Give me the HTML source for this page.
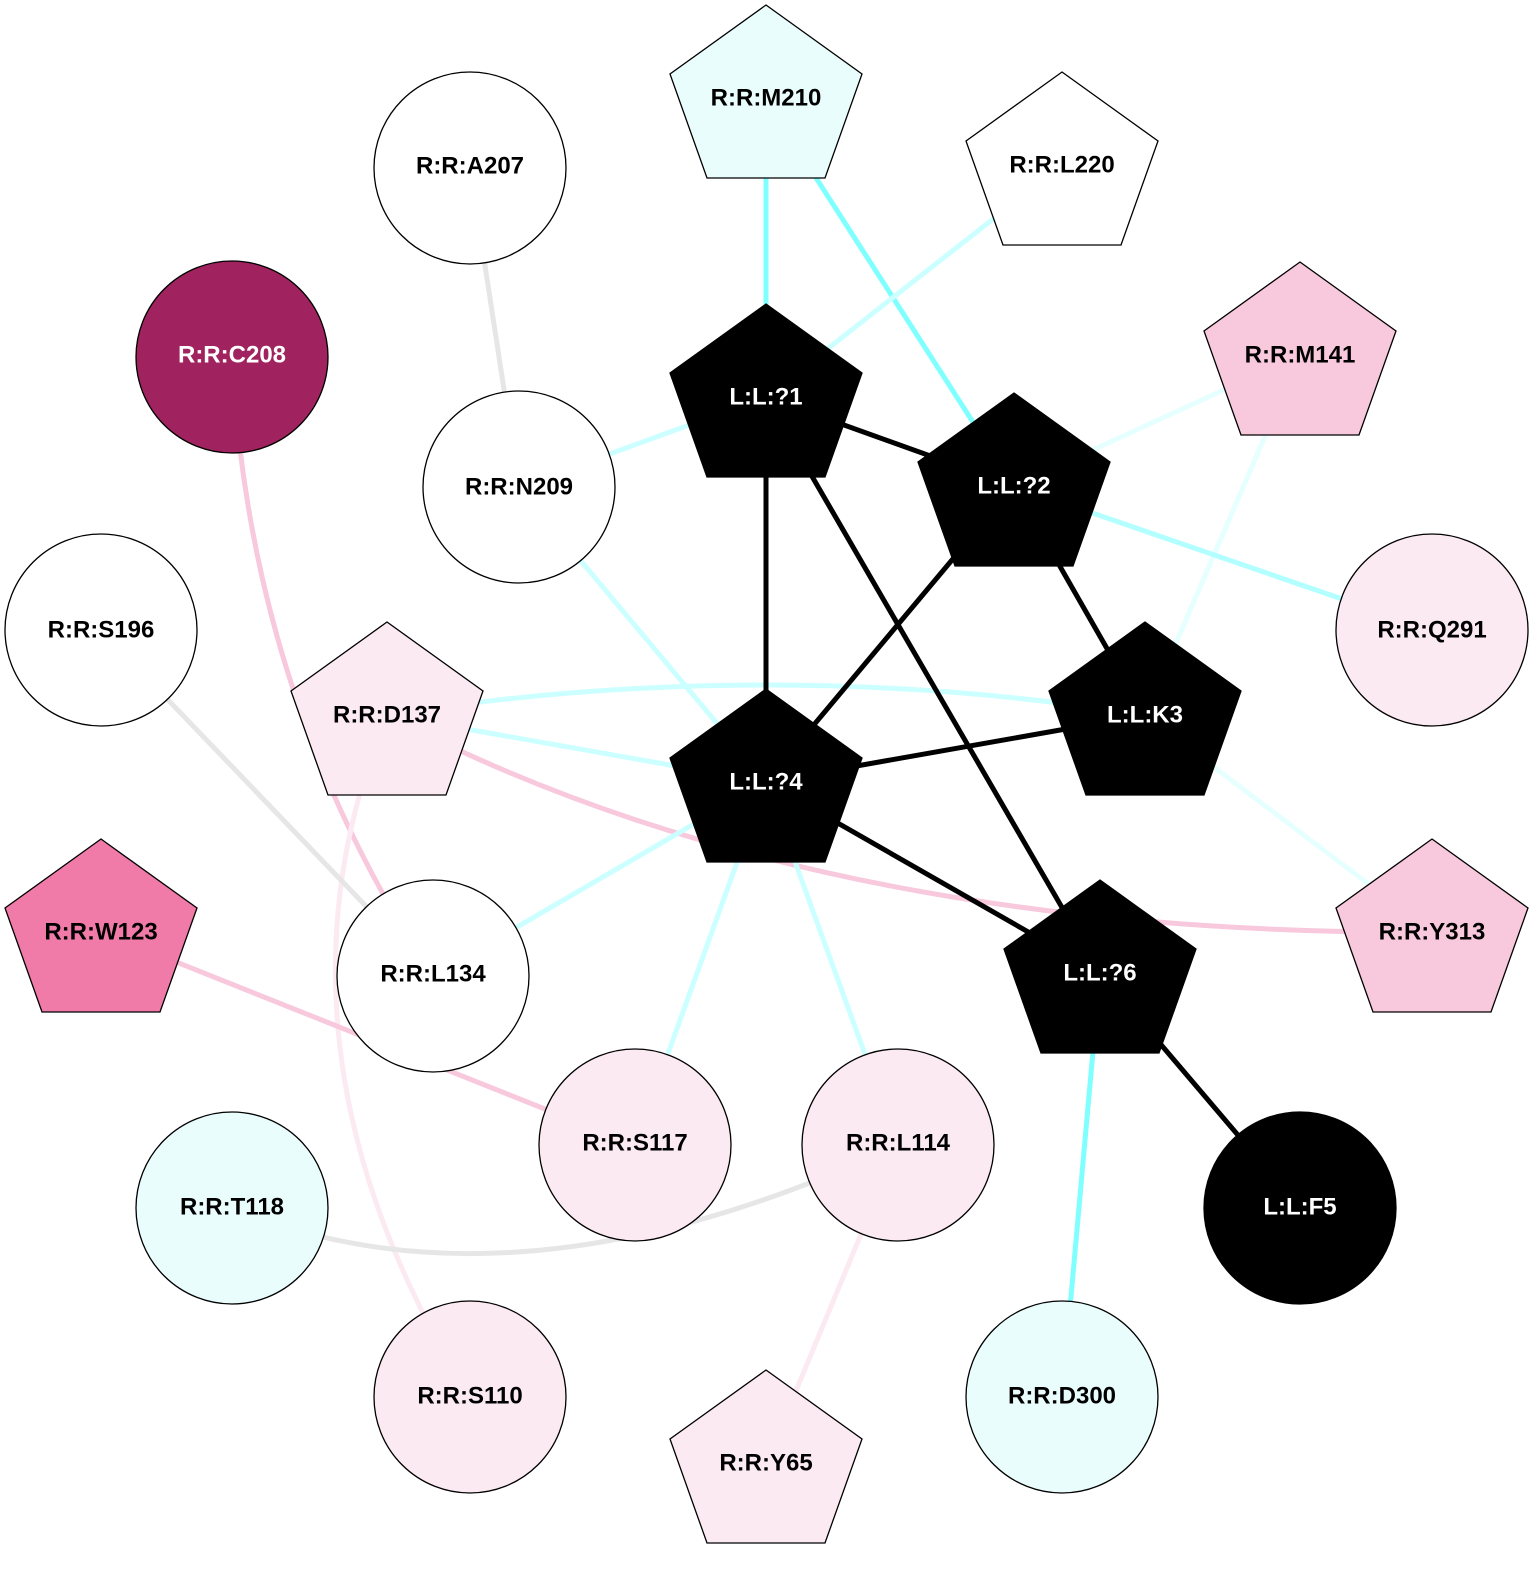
<!DOCTYPE html>
<html><head><meta charset="utf-8"><style>
html,body{margin:0;padding:0;background:#fff;}
text{font-family:"Liberation Sans",Arial,sans-serif;font-weight:bold;font-size:24px;text-anchor:middle;dominant-baseline:central;}
</style></head><body>
<svg width="1540" height="1574" viewBox="0 0 1540 1574" xmlns="http://www.w3.org/2000/svg">
<g fill="none" stroke-width="5">
<line x1="766" y1="100" x2="766" y2="397" stroke="#80ffff"/>
<line x1="766" y1="100" x2="1014" y2="486" stroke="#80ffff"/>
<line x1="1062" y1="165" x2="766" y2="397" stroke="#ccffff"/>
<line x1="519" y1="487" x2="766" y2="397" stroke="#ccffff"/>
<line x1="470" y1="168" x2="519" y2="487" stroke="#e6e6e6"/>
<path d="M232,357 Q250,700 433,976" stroke="#f8c8dc"/>
<line x1="1300" y1="355" x2="1014" y2="486" stroke="#e6ffff"/>
<line x1="1300" y1="355" x2="1145" y2="715" stroke="#e6ffff"/>
<line x1="1014" y1="486" x2="1432" y2="630" stroke="#b3ffff"/>
<line x1="519" y1="487" x2="766" y2="782" stroke="#ccffff"/>
<path d="M387,715 Q766,655 1145,715" stroke="#ccffff"/>
<line x1="387" y1="715" x2="766" y2="782" stroke="#ccffff"/>
<path d="M387,715 Q810,936 1432,932" stroke="#f8c8dc"/>
<path d="M387,715 Q252,1044 470,1397" stroke="#fbeaf2"/>
<line x1="1145" y1="715" x2="1432" y2="932" stroke="#e6ffff"/>
<line x1="101" y1="630" x2="433" y2="976" stroke="#e6e6e6"/>
<line x1="101" y1="932" x2="635" y2="1145" stroke="#f8c8dc"/>
<line x1="766" y1="782" x2="433" y2="976" stroke="#ccffff"/>
<line x1="766" y1="782" x2="635" y2="1145" stroke="#ccffff"/>
<line x1="766" y1="782" x2="898" y2="1145" stroke="#ccffff"/>
<line x1="1100" y1="973" x2="1062" y2="1397" stroke="#80ffff"/>
<path d="M232,1208 Q515,1324 898,1145" stroke="#e6e6e6"/>
<line x1="898" y1="1145" x2="766" y2="1463" stroke="#fbeaf2"/>
<g stroke="#000">
<line x1="766" y1="397" x2="1014" y2="486"/>
<line x1="766" y1="397" x2="766" y2="782"/>
<line x1="766" y1="397" x2="1100" y2="973"/>
<line x1="1014" y1="486" x2="766" y2="782"/>
<line x1="1014" y1="486" x2="1145" y2="715"/>
<line x1="1145" y1="715" x2="766" y2="782"/>
<line x1="766" y1="782" x2="1100" y2="973"/>
<line x1="1100" y1="973" x2="1300" y2="1208"/>
</g>
</g>
<defs>
<polygon id="p" points="0,-93 96,-24 59,80 -59,80 -96,-24"/>
</defs>
<g stroke="#000" stroke-width="1.3">
<circle cx="470" cy="168" r="96" fill="#fff"/>
<use href="#p" x="766" y="98" fill="#eafdfd"/>
<use href="#p" x="1062" y="165" fill="#fff"/>
<circle cx="232" cy="357" r="96" fill="#a0225e"/>
<use href="#p" x="1300" y="355" fill="#f8c8dc"/>
<use href="#p" x="766" y="397" fill="#000"/>
<circle cx="519" cy="487" r="96" fill="#fff"/>
<use href="#p" x="1014" y="486" fill="#000"/>
<circle cx="101" cy="630" r="96" fill="#fff"/>
<circle cx="1432" cy="630" r="96" fill="#fbeaf2"/>
<use href="#p" x="387" y="715" fill="#fbeaf2"/>
<use href="#p" x="1145" y="715" fill="#000"/>
<use href="#p" x="766" y="782" fill="#000"/>
<use href="#p" x="101" y="932" fill="#f07aa8"/>
<circle cx="433" cy="976" r="96" fill="#fff"/>
<use href="#p" x="1432" y="932" fill="#f8c8dc"/>
<use href="#p" x="1100" y="973" fill="#000"/>
<circle cx="635" cy="1145" r="96" fill="#fbeaf2"/>
<circle cx="898" cy="1145" r="96" fill="#fbeaf2"/>
<circle cx="232" cy="1208" r="96" fill="#eafdfd"/>
<circle cx="1300" cy="1208" r="96" fill="#000"/>
<circle cx="470" cy="1397" r="96" fill="#fbeaf2"/>
<use href="#p" x="766" y="1463" fill="#fbeaf2"/>
<circle cx="1062" cy="1397" r="96" fill="#eafdfd"/>
</g>
<g fill="#000">
<text x="470" y="166">R:R:A207</text>
<text x="766" y="98">R:R:M210</text>
<text x="1062" y="165">R:R:L220</text>
<text x="1300" y="355">R:R:M141</text>
<text x="519" y="487">R:R:N209</text>
<text x="101" y="630">R:R:S196</text>
<text x="1432" y="630">R:R:Q291</text>
<text x="387" y="715">R:R:D137</text>
<text x="101" y="932">R:R:W123</text>
<text x="433" y="974">R:R:L134</text>
<text x="1432" y="932">R:R:Y313</text>
<text x="635" y="1143">R:R:S117</text>
<text x="898" y="1143">R:R:L114</text>
<text x="232" y="1207">R:R:T118</text>
<text x="470" y="1396">R:R:S110</text>
<text x="766" y="1463">R:R:Y65</text>
<text x="1062" y="1396">R:R:D300</text>
</g>
<g fill="#fff">
<text x="232" y="355">R:R:C208</text>
<text x="766" y="397">L:L:?1</text>
<text x="1014" y="486">L:L:?2</text>
<text x="1145" y="715">L:L:K3</text>
<text x="766" y="782">L:L:?4</text>
<text x="1100" y="973">L:L:?6</text>
<text x="1300" y="1207">L:L:F5</text>
</g>
</svg>
</body></html>
